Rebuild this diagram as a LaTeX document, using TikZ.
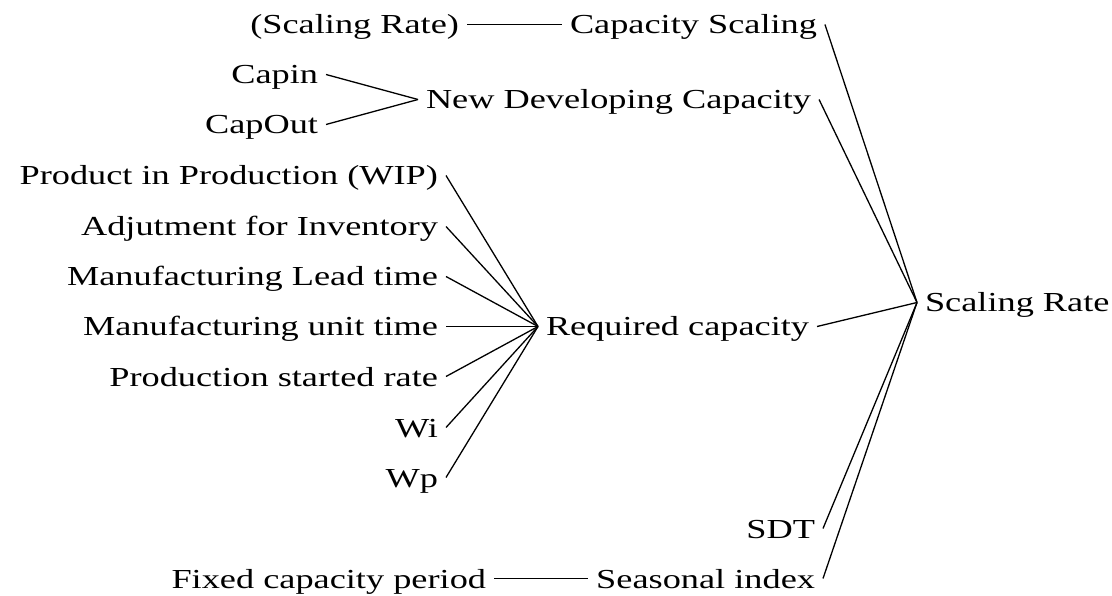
\documentclass[tikz,border=0pt]{standalone}
\usepackage{fontspec}
\setmainfont{Liberation Serif}
\usepackage{graphicx}
% wide-set label text
\newcommand{\wtxt}[1]{\scalebox{1.32}[1]{#1}}
\tikzset{
  lbl/.style={inner sep=0pt, outer xsep=8pt, outer ysep=0pt,
    text height=19pt, text depth=0pt, font=\fontsize{27.5}{32}\selectfont},
  link/.style={draw=black, line width=1.3pt}
}
\begin{document}
\begin{tikzpicture}[x=1pt, y=-1pt]
  \fill[white] (0,0) rectangle (1112,596);
  \useasboundingbox (0,0) rectangle (1112,596);

  % top branch
  \node[lbl, anchor=base east] (srp) at (467,34) {\wtxt{(Scaling Rate)}};
  \node[lbl, anchor=base west] (cs)  at (562,34) {\wtxt{Capacity Scaling}};
  \node[lbl, anchor=base east] (cin) at (326,84) {\wtxt{Capin}};
  \node[lbl, anchor=base east] (cout) at (326,134) {\wtxt{CapOut}};
  \node[lbl, anchor=base west] (ndc) at (418,109) {\wtxt{New Developing Capacity}};

  % required capacity inputs
  \node[lbl, anchor=base east] (wip) at (446,185) {\wtxt{Product in Production (WIP)}};
  \node[lbl, anchor=base east] (adj) at (446,236) {\wtxt{Adjutment for Inventory}};
  \node[lbl, anchor=base east] (mlt) at (446,286) {\wtxt{Manufacturing Lead time}};
  \node[lbl, anchor=base east] (mut) at (446,336) {\wtxt{Manufacturing unit time}};
  \node[lbl, anchor=base east] (psr) at (446,386) {\wtxt{Production started rate}};
  \node[lbl, anchor=base east] (wi)  at (446,437) {\wtxt{Wi}};
  \node[lbl, anchor=base east] (wp)  at (446,487) {\wtxt{Wp}};
  \node[lbl, anchor=base west] (req) at (538,336) {\wtxt{Required capacity}};

  % result
  \node[lbl, anchor=base west] (sr) at (917,312) {\wtxt{Scaling Rate}};

  % bottom branch
  \node[lbl, anchor=base east] (sdt) at (823,538) {\wtxt{SDT}};
  \node[lbl, anchor=base east] (si)  at (823,588) {\wtxt{Seasonal index}};
  \node[lbl, anchor=base east] (fcp) at (494,588) {\wtxt{Fixed capacity period}};

  % connectors
  \draw[link] (srp.east) -- (cs.west);
  \draw[link] (cin.east) -- (ndc.west);
  \draw[link] (cout.east) -- (ndc.west);
  \foreach \n in {wip,adj,mlt,mut,psr,wi,wp}
    \draw[link] (\n.east) -- (req.west);
  \foreach \n in {cs,ndc,req,sdt,si}
    \draw[link] (\n.east) -- (sr.west);
  \draw[link] (fcp.east) -- (si.west);
\end{tikzpicture}
\end{document}
